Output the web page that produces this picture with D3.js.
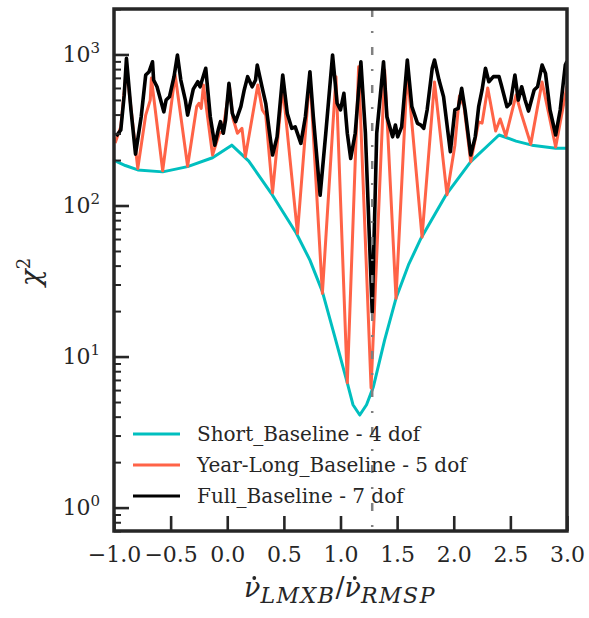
<!DOCTYPE html>
<html>
<head>
<meta charset="utf-8">
<script src="https://cdn.jsdelivr.net/npm/d3@7.9.0/dist/d3.min.js"></script>
<style>
  body { margin: 0; background: #fff; }
  svg text { font-family: "DejaVu Serif", serif; fill: #262626; }
</style>
</head>
<body>
<svg id="chart" width="589" height="618"></svg>
<script>
// values
const shortX = [-1.0, -0.9, -0.79, -0.57, -0.35, -0.13, 0.04, 0.19, 0.39, 0.61, 0.73, 0.84, 0.95, 1.06, 1.11, 1.17, 1.23, 1.29, 1.39, 1.49, 1.60, 1.71, 1.93, 2.15, 2.40, 2.55, 2.69, 2.90, 3.0];
const shortY = [199, 184, 172, 167, 181, 207, 251, 197, 120, 65.5, 43.5, 26.9, 13.5, 6.7, 4.8, 4.1, 4.8, 6.3, 12.9, 24.3, 40.4, 60.5, 117, 195, 293, 267, 251, 239, 239];

const yearX = [-0.99, -0.94, -0.89, -0.79, -0.72, -0.68, -0.67, -0.57, -0.46, -0.35, -0.27, -0.25, -0.23, -0.21, -0.13, -0.07, -0.04, 0.02, 0.05, 0.09, 0.13, 0.16, 0.27, 0.31, 0.34, 0.40, 0.49, 0.62, 0.73, 0.84, 0.96, 1.06, 1.16, 1.27, 1.39, 1.49, 1.59, 1.72, 1.83, 1.94, 2.01, 2.05, 2.09, 2.15, 2.22, 2.25, 2.30, 2.37, 2.41, 2.46, 2.55, 2.60, 2.68, 2.78, 2.90, 3.0];
const yearY = [259, 332, 810, 176, 397, 499, 698, 170, 731, 182, 451, 475, 440, 628, 216, 301, 308, 611, 378, 301, 324, 210, 628, 429, 397, 121.5, 611, 65.4, 731, 26.2, 713, 6.7, 830, 6.2, 789, 24.3, 766, 61.8, 657, 118, 251, 531, 456, 195, 357, 351, 600, 311, 374, 288, 538, 397, 255, 657, 244, 618];

const fullX = [-0.98, -0.94, -0.91, -0.89, -0.85, -0.81, -0.76, -0.72, -0.69, -0.66, -0.65, -0.62, -0.56, -0.54, -0.51, -0.47, -0.44, -0.41, -0.37, -0.35, -0.30, -0.26, -0.24, -0.19, -0.15, -0.11, -0.08, -0.06, -0.035, -0.015, 0.015, 0.045, 0.074, 0.12, 0.15, 0.18, 0.22, 0.25, 0.265, 0.31, 0.34, 0.37, 0.40, 0.44, 0.49, 0.53, 0.57, 0.60, 0.65, 0.69, 0.73, 0.76, 0.82, 0.87, 0.93, 0.97, 1.0, 1.03, 1.06, 1.09, 1.13, 1.18, 1.22, 1.28, 1.32, 1.38, 1.41, 1.46, 1.485, 1.505, 1.54, 1.59, 1.63, 1.68, 1.71, 1.735, 1.765, 1.81, 1.83, 1.87, 1.91, 1.97, 2.01, 2.04, 2.07, 2.10, 2.15, 2.19, 2.22, 2.25, 2.28, 2.31, 2.35, 2.40, 2.42, 2.47, 2.50, 2.54, 2.57, 2.60, 2.63, 2.66, 2.71, 2.74, 2.78, 2.81, 2.85, 2.90, 2.94, 2.985, 3.0];
const fullY = [288, 316, 538, 943, 429, 219, 387, 731, 769, 895, 677, 611, 417, 499, 525, 713, 992, 677, 499, 397, 590, 660, 611, 810, 387, 251, 316, 359, 301, 368, 644, 407, 359, 451, 582, 713, 611, 677, 851, 597, 475, 316, 216, 285, 731, 407, 324, 332, 258, 387, 769, 387, 117, 301, 992, 475, 429, 553, 301, 205, 301, 895, 301, 19.7, 302, 895, 387, 285, 341, 285, 332, 919, 451, 350, 341, 324, 429, 810, 919, 677, 525, 227, 429, 440, 597, 429, 216, 285, 451, 582, 810, 660, 713, 713, 628, 451, 475, 731, 499, 611, 499, 422, 582, 611, 851, 750, 429, 293, 429, 851, 900];

const seriesNames = ["Short_Baseline - 4 dof", "Year-Long_Baseline - 5 dof", "Full_Baseline - 7 dof"];
const seriesColors = ["#00bfbf", "#ff6347", "#000000"];
const xTicks = [-1.0, -0.5, 0.0, 0.5, 1.0, 1.5, 2.0, 2.5, 3.0];
const yTicks = [1, 10, 100, 1000];
const markerX = 1.28;

const svg = d3.select("#chart");
const pLeft = 114, pRight = 567, pTop = 9, pBottom = 531;

const x = d3.scaleLinear().domain([-1, 3]).range([pLeft, pRight]);
const y = d3.scaleLog().domain([0.7, 2000]).range([pBottom, pTop]);

// minor ticks for the log axis
let yMinor = [];
[0.1, 1, 10, 100, 1000].forEach(d => {
  for (let k = 2; k <= 9; k++) {
    const v = d * k;
    if (v >= 0.7 && v <= 2000) yMinor.push(v);
  }
});

svg.append("clipPath").attr("id", "clip")
  .append("rect").attr("x", pLeft).attr("y", pTop).attr("width", pRight - pLeft).attr("height", pBottom - pTop);

const plot = svg.append("g").attr("clip-path", "url(#clip)");

const line = d3.line().x(d => x(d[0])).y(d => y(d[1]));

const series = [
  d3.zip(shortX, shortY),
  d3.zip(yearX, yearY),
  d3.zip(fullX, fullY)
];

series.forEach((s, i) => {
  plot.append("path")
    .datum(s)
    .attr("d", line)
    .attr("fill", "none")
    .attr("stroke", seriesColors[i])
    .attr("stroke-width", i == 2 ? 3.6 : 3)
    .attr("stroke-linejoin", "round");
});

// dash-dot marker line
plot.append("line")
  .attr("x1", x(markerX)).attr("x2", x(markerX))
  .attr("y1", pTop).attr("y2", pBottom)
  .attr("stroke", "#808080")
  .attr("stroke-width", 2.5)
  .attr("stroke-dasharray", "8,14,2,14");

// axes
const xAxis = svg.append("g")
  .attr("transform", `translate(0,${pBottom})`)
  .call(d3.axisBottom(x).tickValues(xTicks).tickSize(-15).tickPadding(15)
    .tickFormat(d => d3.format(".1f")(d).replace("-", "\u2212")));

const yAxis = svg.append("g")
  .attr("transform", `translate(${pLeft},0)`)
  .call(d3.axisLeft(y).tickValues(yTicks).tickSize(-15).tickPadding(12).tickFormat(""));

svg.append("g")
  .attr("transform", `translate(${pLeft},0)`)
  .call(d3.axisLeft(y).tickValues(yMinor).tickSize(-7).tickFormat(""))
  .call(g => g.selectAll(".tick line").attr("stroke", "#262626").attr("stroke-width", 2));

[xAxis, yAxis].forEach(g => {
  g.selectAll(".tick line").attr("stroke", "#262626").attr("stroke-width", 2.6);
});
svg.selectAll(".domain").remove();
svg.selectAll("g").attr("font-family", null);

xAxis.selectAll(".tick text")
  .attr("font-size", 22)
  .attr("fill", "#262626");

yAxis.selectAll(".tick").each(function(d) {
  const t = d3.select(this).append("text")
    .attr("x", -14).attr("dy", "0.32em")
    .attr("text-anchor", "end")
    .attr("font-size", 22);
  t.append("tspan").text("10");
  t.append("tspan").attr("font-size", 15).attr("dy", "-0.6em").text(Math.round(Math.log10(d)));
});

// frame
svg.append("rect")
  .attr("x", pLeft).attr("y", pTop)
  .attr("width", pRight - pLeft).attr("height", pBottom - pTop)
  .attr("fill", "none")
  .attr("stroke", "#262626")
  .attr("stroke-width", 3.5);

// axis labels
svg.append("text")
  .attr("transform", "translate(40,272) rotate(-90)")
  .attr("text-anchor", "middle")
  .attr("font-size", 28)
  .html('<tspan font-style="italic">χ</tspan><tspan font-size="18" dy="-0.55em">2</tspan>');

const xl = svg.append("text")
  .attr("x", 340).attr("y", 597)
  .attr("text-anchor", "middle")
  .attr("font-size", 27)
  .attr("font-style", "italic");
xl.append("tspan").attr("class", "nu").text("\u03BD");
xl.append("tspan").attr("font-size", 22).attr("dy", 6).attr("letter-spacing", 1.5).text("LMXB");
xl.append("tspan").attr("dy", -6).attr("font-style", "normal").text("/");
xl.append("tspan").attr("class", "nu").text("\u03BD");
xl.append("tspan").attr("font-size", 22).attr("dy", 6).attr("letter-spacing", 1.5).text("RMSP");

// dots above the two nu symbols
[0, 6].forEach(ci => {
  const ext = xl.node().getExtentOfChar(ci);
  svg.append("circle")
    .attr("cx", ext.x + ext.width / 2 + 2)
    .attr("cy", ext.y + 6)
    .attr("r", 1.9)
    .attr("fill", "#262626");
});

// legend
const legend = svg.append("g");
seriesNames.forEach((name, i) => {
  const ly = 434 + i * 31;
  legend.append("line")
    .attr("x1", 133).attr("x2", 180)
    .attr("y1", ly).attr("y2", ly)
    .attr("stroke", seriesColors[i])
    .attr("stroke-width", 3);
  legend.append("text")
    .attr("x", 197).attr("y", ly + 7)
    .attr("font-size", 20)
    .text(name);
});
</script>
</body>
</html>
